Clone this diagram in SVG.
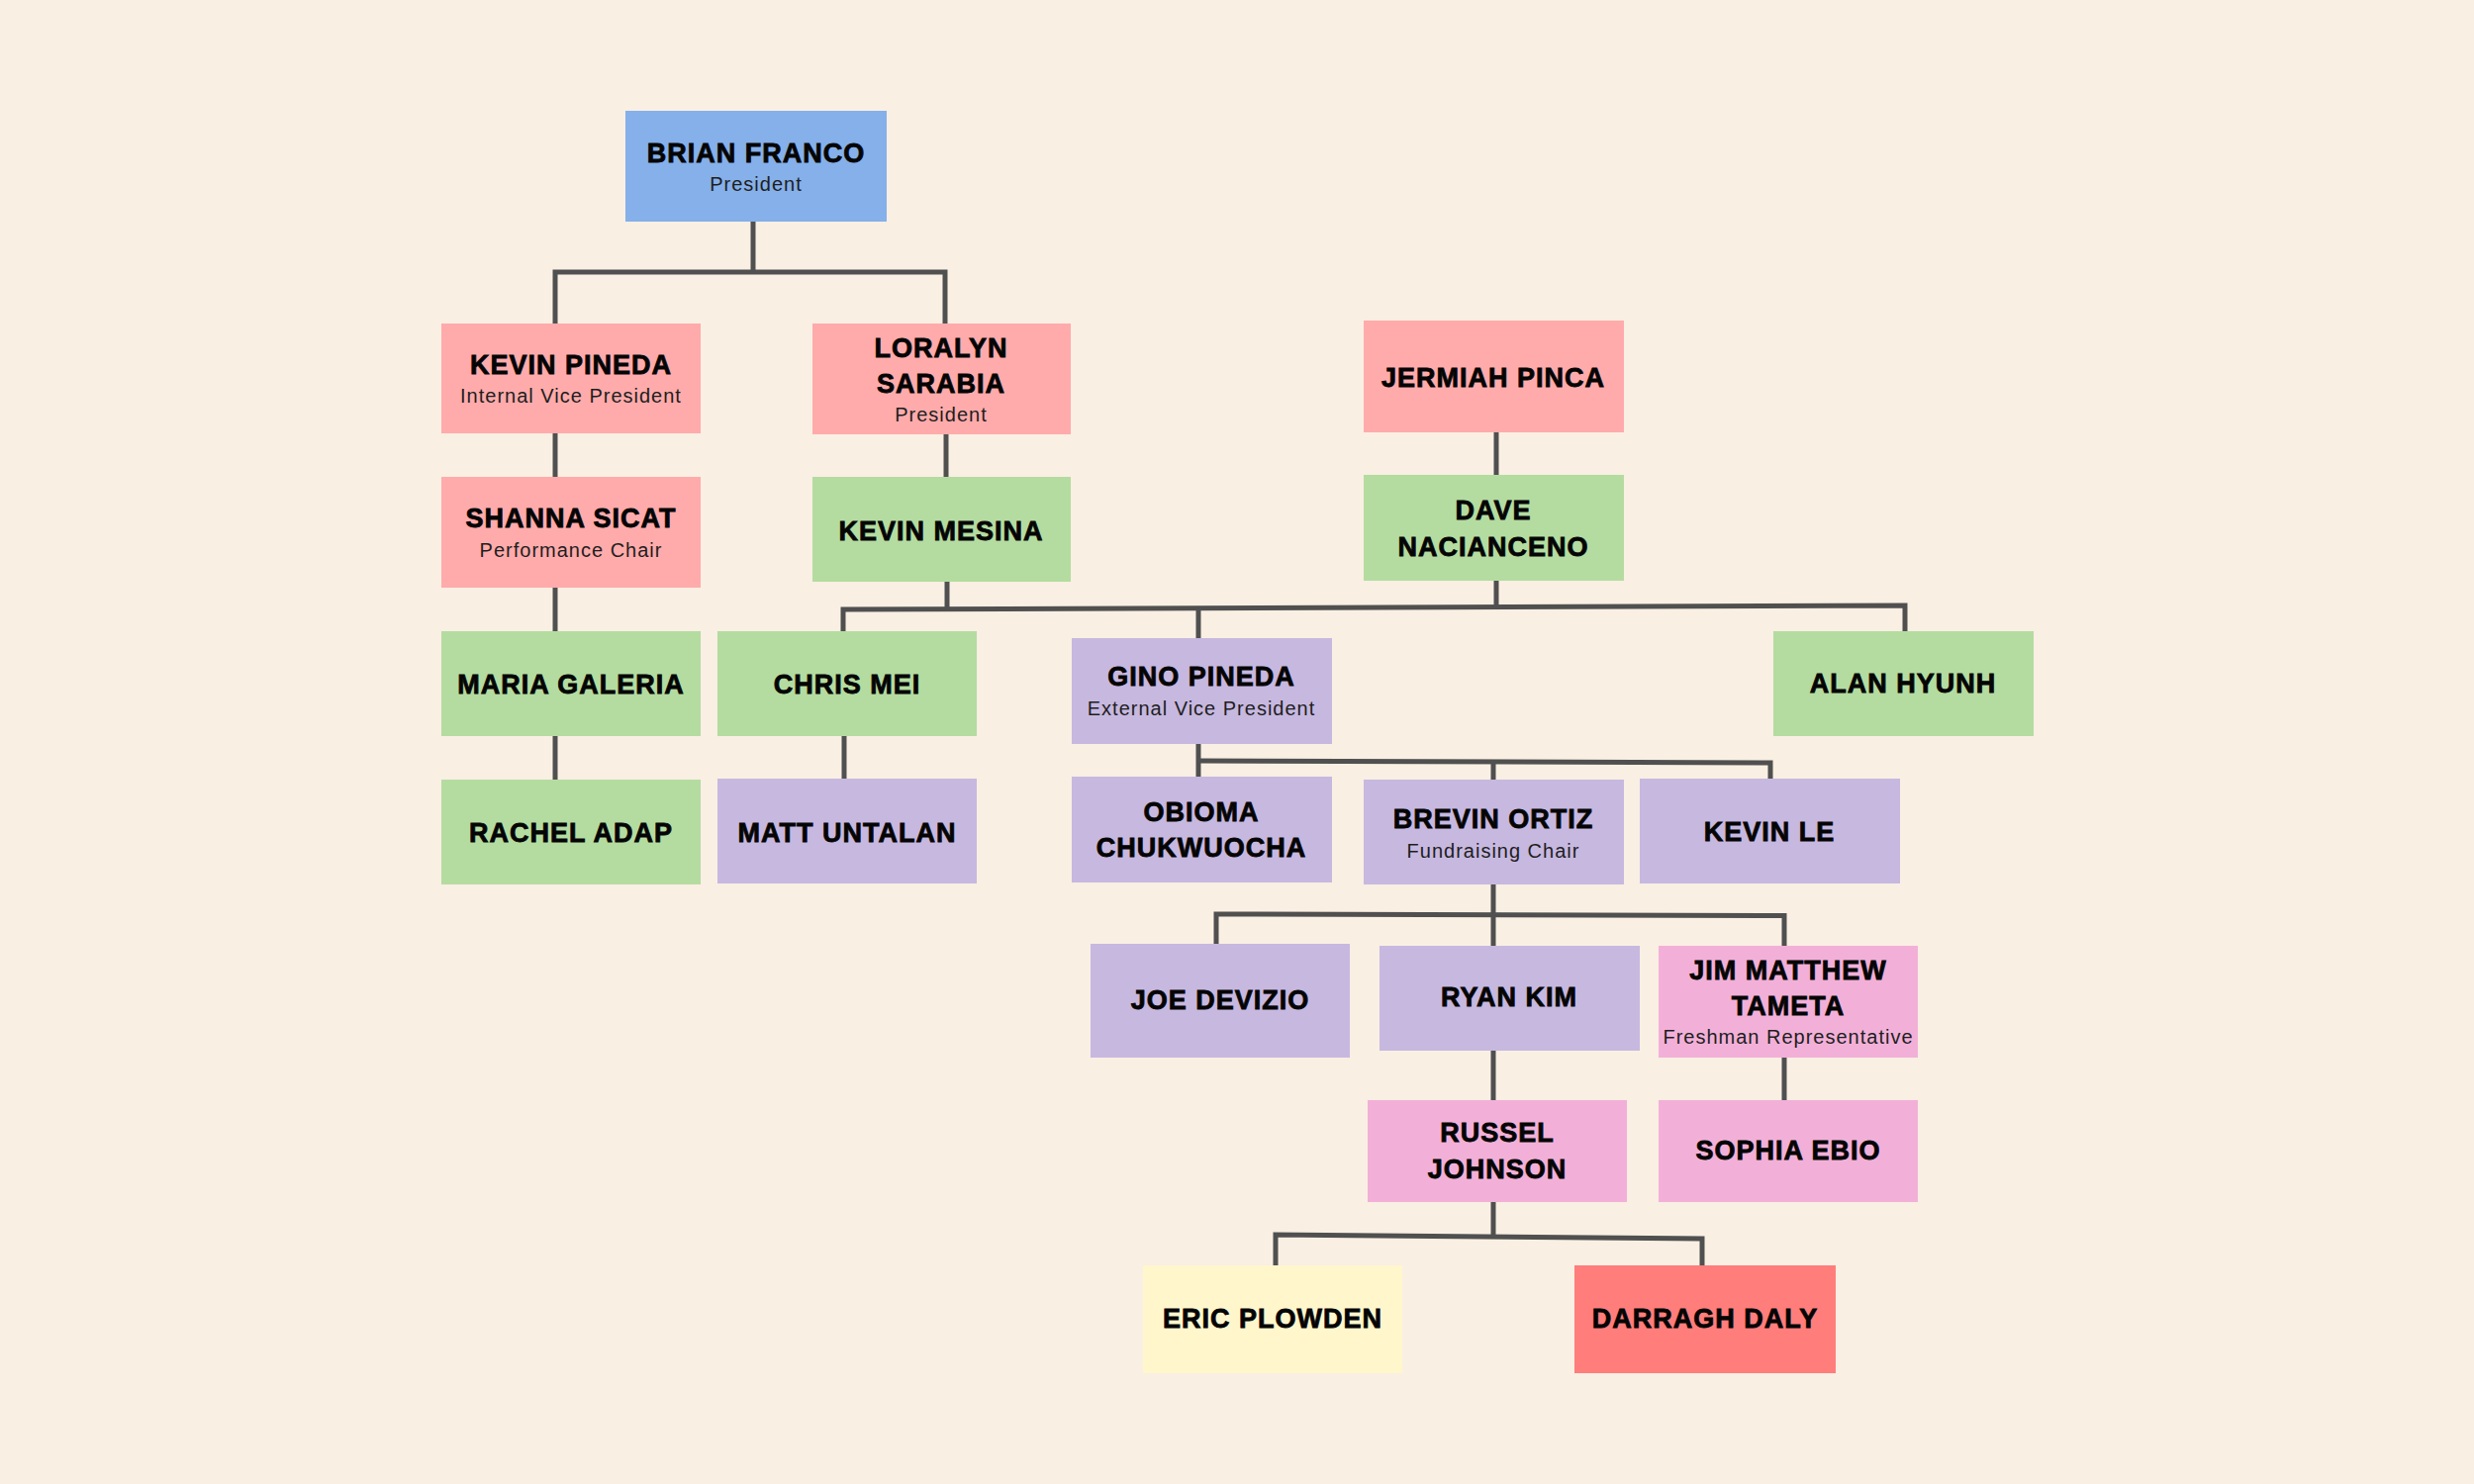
<svg xmlns="http://www.w3.org/2000/svg" width="2500" height="1500" viewBox="0 0 2500 1500">
<style>
.t{font-family:"Liberation Sans",Arial,sans-serif;font-weight:bold;font-size:27px;letter-spacing:1px;fill:#050505;stroke:#050505;stroke-width:0.8px;text-anchor:middle}
.s{font-family:"Liberation Sans",Arial,sans-serif;font-size:20px;letter-spacing:1px;fill:#1e1e1e;text-anchor:middle}
.blue{fill:#85b0ea}.pink{fill:#ffabab}.green{fill:#b4dca0}.purple{fill:#c7b8e0}.rose{fill:#f2b0d8}.yellow{fill:#fff6cc}.red{fill:#ff7d7b}
.c{fill:none;stroke:#505050;stroke-width:5;stroke-linejoin:miter}
</style>
<rect x="0" y="0" width="2500" height="1500" fill="#f9efe3"/>
<g id="connectors" class="c">
<path d="M761,224 V275"/>
<path d="M561,327 V275 H955 V327"/>
<path d="M561,438 V482"/>
<path d="M561,594 V638"/>
<path d="M561,744 V788"/>
<path d="M956,439 V482"/>
<path d="M957,588 V616"/>
<path d="M852,638 V616 L1925,612 V638"/>
<path d="M1211,615 V645"/>
<path d="M1512,587 V613"/>
<path d="M853,744 V787"/>
<path d="M1512,437 V480"/>
<path d="M1211,752 V785"/>
<path d="M1211,769 L1789,771 V787"/>
<path d="M1509,770 V788"/>
<path d="M1509,894 V924"/>
<path d="M1229,954 V924 L1803,925.5 V956"/>
<path d="M1509,924 V956"/>
<path d="M1509,1062 V1112"/>
<path d="M1803,1069 V1112"/>
<path d="M1509,1215 V1249"/>
<path d="M1289,1279 V1248 L1720,1252 V1279"/>
</g>
<g id="brian"><rect class="blue" x="632" y="112" width="264" height="112"/><text class="t" x="764" y="164">BRIAN FRANCO</text><text class="s" x="764" y="193">President</text></g>
<g id="kevin-pineda"><rect class="pink" x="446" y="327" width="262" height="111"/><text class="t" x="577" y="378">KEVIN PINEDA</text><text class="s" x="577" y="407">Internal Vice President</text></g>
<g id="loralyn"><rect class="pink" x="821" y="327" width="261" height="112"/><text class="t" x="951" y="361">LORALYN</text><text class="t" x="951" y="397">SARABIA</text><text class="s" x="951" y="426">President</text></g>
<g id="jermiah"><rect class="pink" x="1378" y="324" width="263" height="113"/><text class="t" x="1509" y="391">JERMIAH PINCA</text></g>
<g id="shanna"><rect class="pink" x="446" y="482" width="262" height="112"/><text class="t" x="577" y="533">SHANNA SICAT</text><text class="s" x="577" y="563">Performance Chair</text></g>
<g id="kevin-mesina"><rect class="green" x="821" y="482" width="261" height="106"/><text class="t" x="951" y="546">KEVIN MESINA</text></g>
<g id="dave"><rect class="green" x="1378" y="480" width="263" height="107"/><text class="t" x="1509" y="525">DAVE</text><text class="t" x="1509" y="562">NACIANCENO</text></g>
<g id="maria"><rect class="green" x="446" y="638" width="262" height="106"/><text class="t" x="577" y="701">MARIA GALERIA</text></g>
<g id="chris-mei"><rect class="green" x="725" y="638" width="262" height="106"/><text class="t" x="856" y="701">CHRIS MEI</text></g>
<g id="gino"><rect class="purple" x="1083" y="645" width="263" height="107"/><text class="t" x="1214" y="693">GINO PINEDA</text><text class="s" x="1214" y="723">External Vice President</text></g>
<g id="alan"><rect class="green" x="1792" y="638" width="263" height="106"/><text class="t" x="1923" y="700">ALAN HYUNH</text></g>
<g id="rachel"><rect class="green" x="446" y="788" width="262" height="106"/><text class="t" x="577" y="851">RACHEL ADAP</text></g>
<g id="matt"><rect class="purple" x="725" y="787" width="262" height="106"/><text class="t" x="856" y="851">MATT UNTALAN</text></g>
<g id="obioma"><rect class="purple" x="1083" y="785" width="263" height="107"/><text class="t" x="1214" y="830">OBIOMA</text><text class="t" x="1214" y="866">CHUKWUOCHA</text></g>
<g id="brevin"><rect class="purple" x="1378" y="788" width="263" height="106"/><text class="t" x="1509" y="837">BREVIN ORTIZ</text><text class="s" x="1509" y="867">Fundraising Chair</text></g>
<g id="kevin-le"><rect class="purple" x="1657" y="787" width="263" height="106"/><text class="t" x="1788" y="850">KEVIN LE</text></g>
<g id="joe"><rect class="purple" x="1102" y="954" width="262" height="115"/><text class="t" x="1233" y="1020">JOE DEVIZIO</text></g>
<g id="ryan"><rect class="purple" x="1394" y="956" width="263" height="106"/><text class="t" x="1525" y="1017">RYAN KIM</text></g>
<g id="jim"><rect class="rose" x="1676" y="956" width="262" height="113"/><text class="t" x="1807" y="990">JIM MATTHEW</text><text class="t" x="1807" y="1026">TAMETA</text><text class="s" x="1807" y="1055">Freshman Representative</text></g>
<g id="russel"><rect class="rose" x="1382" y="1112" width="262" height="103"/><text class="t" x="1513" y="1154">RUSSEL</text><text class="t" x="1513" y="1191">JOHNSON</text></g>
<g id="sophia"><rect class="rose" x="1676" y="1112" width="262" height="103"/><text class="t" x="1807" y="1172">SOPHIA EBIO</text></g>
<g id="eric"><rect class="yellow" x="1155" y="1279" width="262" height="109"/><text class="t" x="1286" y="1342">ERIC PLOWDEN</text></g>
<g id="darragh"><rect class="red" x="1591" y="1279" width="264" height="109"/><text class="t" x="1723" y="1342">DARRAGH DALY</text></g>
</svg>
